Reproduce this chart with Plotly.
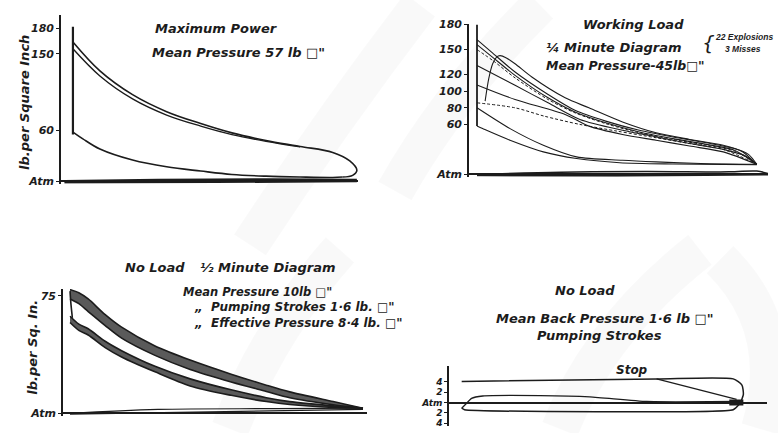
import plotly.graph_objects as go

W, H = 778, 433
INK = "#1c1c1c"
FONT = "DejaVu Sans"

# ---------------- Panel 1 : Maximum Power ----------------
p1_adm_x = [0, 0]
p1_adm_y = [182, 55]
p1_outer_x = [0, 9.5, 21, 33, 45, 56, 68, 80, 91.5, 97.5, 100, 98.5, 95]
p1_outer_y = [164, 130, 102, 82, 68, 57, 48, 41, 34, 24, 13, 7, 5]
p1_inner_x = [0, 9.5, 21, 33, 45, 56, 68, 80]
p1_inner_y = [156, 124, 97, 78, 65, 55, 47, 40.5]
p1_comp_x = [95, 91.5, 80, 68, 56, 45, 33, 21, 9.5, 3.5, 0]
p1_comp_y = [5, 4.5, 5, 6, 8, 12, 17, 25, 38, 50, 58]
p1_exh_a_x = [-3, 30, 70, 100]
p1_exh_a_y = [0.5, 2, 2.5, 2]
p1_exh_b_x = [-3, 50, 100]
p1_exh_b_y = [-1.5, -1, 0]
p1_tickvals = [0, 60, 150, 180]
p1_ticktext = ["Atm", "60", "150", "180"]

# ---------------- Panel 2 : Working Load ----------------
p2_adm_x = [0, 0]
p2_adm_y = [180, 58]
p2_solid = [
    ([0, 5.2, 13.6, 25.4, 35, 46, 58, 70, 82, 92, 97, 100],
     [162, 147, 123, 96, 77, 64, 53, 45, 38, 31, 24, 12]),
    ([0, 5.5, 13.6, 25.4, 35, 46, 58, 70, 82, 92, 100],
     [156, 141, 119, 92, 75, 62, 51, 43, 36, 29, 12]),
    ([2.9, 4.2, 5.6, 7, 8.2, 10.5, 13.6, 19.6, 31.5, 40, 52, 64, 76, 88, 95, 99],
     [88, 115, 133, 141, 142.7, 140, 133, 117, 92, 80, 63, 50, 42, 35, 27, 15]),
    ([0, 13.6, 25.4, 36.8, 52, 64, 76, 88, 96, 100],
     [131, 107, 86, 66, 53, 45, 37, 30, 22, 12]),
    ([0, 13.6, 31.5, 40, 52, 64, 76, 88, 100],
     [107.5, 90, 72, 58, 48, 41, 34, 27, 12]),
    ([0, 11.8, 23.7, 35.6, 52, 64, 80, 100],
     [80, 55, 35, 21, 17, 15, 13, 12]),
    ([0, 2, 11.8, 23.7, 35.6, 51, 70, 88, 100],
     [58, 55, 41, 27, 19, 14, 12.5, 12, 11.5]),
]
p2_dashed = [
    ([0, 6, 13.6, 25.4, 35, 46, 58, 70, 82, 92, 100],
     [150, 136, 116, 90, 74, 61, 50, 42, 35, 28, 12]),
    ([0, 13.6, 24, 36.8, 50, 64, 76, 88, 100],
     [86, 80, 70, 60, 52, 44, 37, 30, 12]),
]
p2_exh_a_x = [0, 30, 60, 90, 100, 104]
p2_exh_a_y = [0, 2.5, 3.5, 3, 4, 1]
p2_exh_b_x = [0, 50, 104]
p2_exh_b_y = [-1, -1.5, 0]
p2_tickvals = [0, 60, 80, 100, 120, 150, 180]
p2_ticktext = ["Atm", "60", "80", "100", "120", "150", "180"]

# ---------------- Panel 3 : No Load, 1/2 minute ----------------
p3_x = [0, 3, 6.2, 12, 17.6, 29, 41, 55, 67, 75, 89.8, 100]
p3_up_top = [79, 77, 73, 63, 55, 43, 34, 25, 18, 13.7, 7.5, 3.3]
p3_up_bot = [73, 70, 65, 56, 48, 37, 28, 20, 14, 10, 5.5, 3.3]
p3_lo_top = [62, 57, 54, 46, 40, 30, 22, 15, 10, 7.5, 4.8, 3.3]
p3_lo_bot = [58, 53, 50, 42, 36, 26.5, 17.5, 11.5, 7.5, 5.6, 3.8, 3.3]
p3_link_x = [0, 0.3, 0.8]
p3_link_y = [78, 70, 61]
p3_exh_a_x = [0, 30, 70, 100]
p3_exh_a_y = [0, 2.5, 3, 3.3]
p3_exh_b_x = [0, 100]
p3_exh_b_y = [-0.5, 2.5]
p3_tickvals = [0, 75]
p3_ticktext = ["Atm", "75"]

# ---------------- Panel 4 : No Load, pumping strokes ----------------
p4_top_x = [0, 69.2, 96.4, 99.5, 100, 99.2]
p4_top_y = [4.1, 4.6, 4.6, 3.4, 1.6, 0.3]
p4_diag_x = [69.2, 97.6]
p4_diag_y = [4.6, 0.6]
p4_hump_x = [0, 1.5, 3.5, 7.5, 27.8, 45.5, 65.7, 97.6]
p4_hump_y = [-1.1, -0.3, 0.8, 1.27, 1.35, 1.1, 0.2, 0.2]
p4_low_x = [0, 1, 96.4, 98.8]
p4_low_y = [-1.1, -1.4, -1.4, -0.2]
p4_blob_x = [95, 100]
p4_blob_y = [0, 0]
p4_tickvals = [-4, -2, 0, 2, 4]
p4_ticktext = ["4", "2", "Atm", "2", "4"]


def line(x, y, axes, width=1.5, dash="solid", shape="spline", color=INK, smoothing=1.0):
    return go.Scatter(x=x, y=y, mode="lines", xaxis=axes[0], yaxis=axes[1],
                      line=dict(color=color, width=width, dash=dash, shape=shape,
                                smoothing=smoothing),
                      hoverinfo="skip", showlegend=False)


def band(x, top, bot, axes):
    return go.Scatter(x=list(x) + list(x)[::-1], y=list(top) + list(bot)[::-1],
                      mode="lines", fill="toself", fillcolor="#5a5a5a",
                      xaxis=axes[0], yaxis=axes[1],
                      line=dict(color=INK, width=1.6, shape="spline", smoothing=0.8),
                      hoverinfo="skip", showlegend=False)


fig = go.Figure()
A1, A2, A3, A4 = ("x", "y"), ("x2", "y2"), ("x3", "y3"), ("x4", "y4")

# panel 1
fig.add_trace(line(p1_adm_x, p1_adm_y, A1, 2.2, shape="linear"))
fig.add_trace(line(p1_outer_x, p1_outer_y, A1, 1.6))
fig.add_trace(line(p1_inner_x, p1_inner_y, A1, 1.4))
fig.add_trace(line(p1_comp_x, p1_comp_y, A1, 1.6))
fig.add_trace(line(p1_exh_a_x, p1_exh_a_y, A1, 1.6))
fig.add_trace(line(p1_exh_b_x, p1_exh_b_y, A1, 2.0))

# panel 2
fig.add_trace(line(p2_adm_x, p2_adm_y, A2, 1.8, shape="linear"))
for xs, ys in p2_solid:
    fig.add_trace(line(xs, ys, A2, 1.1, smoothing=0.8))
for xs, ys in p2_dashed:
    fig.add_trace(line(xs, ys, A2, 1.0, dash="3px,2px", smoothing=0.8))
fig.add_trace(line(p2_exh_a_x, p2_exh_a_y, A2, 1.5))
fig.add_trace(line(p2_exh_b_x, p2_exh_b_y, A2, 2.2))

# panel 3
fig.add_trace(band(p3_x, p3_up_top, p3_up_bot, A3))
fig.add_trace(band(p3_x, p3_lo_top, p3_lo_bot, A3))
fig.add_trace(line(p3_link_x, p3_link_y, A3, 1.6))
fig.add_trace(line(p3_exh_a_x, p3_exh_a_y, A3, 1.2))
fig.add_trace(line(p3_exh_b_x, p3_exh_b_y, A3, 1.2))

# panel 4
fig.add_trace(line(p4_top_x, p4_top_y, A4, 1.5, smoothing=0.6))
fig.add_trace(line(p4_diag_x, p4_diag_y, A4, 1.3, shape="linear"))
fig.add_trace(line(p4_hump_x, p4_hump_y, A4, 1.3, smoothing=0.5))
fig.add_trace(line(p4_low_x, p4_low_y, A4, 1.5, smoothing=0.4))
fig.add_trace(line(p4_blob_x, p4_blob_y, A4, 6, shape="linear"))


# ---------------- layout helpers (pixel geometry) ----------------
def xdom(px0, px1):
    return [px0 / W, px1 / W]


def ydom(py_bottom, py_top):
    return [1 - py_bottom / H, 1 - py_top / H]


def xaxis(dom, rng, anchor):
    return dict(domain=dom, range=rng, anchor=anchor, showline=False, showgrid=False,
                zeroline=False, showticklabels=False, ticks="", fixedrange=True)


def yaxis(dom, rng, anchor, tv, tt, size=11):
    return dict(domain=dom, range=rng, anchor=anchor, showline=True, linecolor=INK,
                linewidth=1.6, showgrid=False, zeroline=True, zerolinecolor=INK,
                zerolinewidth=1.6, tickmode="array", tickvals=tv, ticktext=tt,
                ticks="outside", ticklen=3, tickwidth=1.2, tickcolor=INK,
                tickfont=dict(family=FONT, size=size, color=INK, style="italic", weight="bold"),
                fixedrange=True)


fig.update_layout(
    width=W, height=H, margin=dict(l=0, r=0, t=0, b=0),
    paper_bgcolor="white", plot_bgcolor="rgba(0,0,0,0)",
    xaxis=xaxis(xdom(61, 358.3), [-4.2, 100.5], "y"),
    yaxis=yaxis(ydom(182.6, 10.1), [-3, 196], "x", p1_tickvals, p1_ticktext),
    xaxis2=xaxis(xdom(469, 768), [-2.86, 104], "y2"),
    yaxis2=yaxis(ydom(175.5, 19.2), [-3, 181], "x2", p2_tickvals, p2_ticktext),
    xaxis3=xaxis(xdom(63, 367.1), [-2.4, 101.4], "y3"),
    yaxis3=yaxis(ydom(420.2, 290), [-2, 79.4], "x3", p3_tickvals, p3_ticktext),
    xaxis4=xaxis(xdom(449, 767.3), [-4.5, 108.5], "y4"),
    yaxis4=yaxis(ydom(430.1, 368.2), [-4.6, 7.2], "x4", p4_tickvals, p4_ticktext, size=9),
)

# faint background swooshes of the scanned page (pixel coordinates -> paper)
swoosh_px = [
    [(250, 245), (330, 120), (420, 0)],
    [(395, 190), (450, 90), (540, 0)],
    [(230, 433), (270, 330), (340, 250)],
    [(720, 260), (790, 330), (760, 433)],
    [(560, 433), (600, 330), (700, 250)],
]
for pts in swoosh_px:
    (a, b), (c, d), (e, f) = [(px / W, 1 - py / H) for px, py in pts]
    fig.add_shape(type="path", path=f"M {a:.4f},{b:.4f} Q {c:.4f},{d:.4f} {e:.4f},{f:.4f}",
                  xref="paper", yref="paper", layer="below",
                  line=dict(color="rgba(0,0,0,0.022)", width=38))


def txt(text, px, py, size=14, xanchor="center", angle=0, weight="bold", family=FONT):
    fig.add_annotation(text=text, x=px / W, y=1 - py / H, xref="paper", yref="paper",
                       xanchor=xanchor, yanchor="middle", showarrow=False, textangle=angle,
                       font=dict(family=family, size=size, color=INK, style="italic",
                                 weight=weight))


# panel 1 texts
txt("Maximum Power", 216, 24, 13)
txt("Mean Pressure 57 lb □\"", 238, 48, 13)
txt("lb.per Square Inch", 25, 100, 13, angle=-90)
# panel 2 texts
txt("Working Load", 633, 20, 13)
txt("¼ Minute Diagram", 614, 43, 13)
txt("Mean Pressure-45lb□\"", 625, 62, 12.5)
txt("{", 708, 39, 20, weight="normal")
NARROW = "Liberation Sans Narrow, Liberation Sans"
txt("22 Explosions", 713, 33, 8.5, xanchor="left", family=NARROW)
txt("3 Misses", 723, 45, 8.5, xanchor="left", family=NARROW)
# panel 3 texts
txt("No Load", 155, 268, 13)
txt("½ Minute Diagram", 268, 268, 13)
txt("Mean Pressure 10lb □\"", 181, 293, 11.5, xanchor="left")
txt("„  Pumping Strokes 1·6 lb. □\"", 192, 308, 12, xanchor="left")
txt("„  Effective Pressure 8·4 lb. □\"", 192, 325, 12, xanchor="left")
txt("lb.per Sq. In.", 33, 350, 13, angle=-90)
# panel 4 texts
txt("No Load", 585, 292, 13)
txt("Mean Back Pressure 1·6 lb □\"", 605, 320, 13)
txt("Pumping Strokes", 599, 338, 13)
txt("Stop", 632, 373, 12)

fig.write_html("out.html", config={"displayModeBar": False},
               post_script="document.body.style.margin='0';"
                           "document.body.style.overflow='hidden';")
